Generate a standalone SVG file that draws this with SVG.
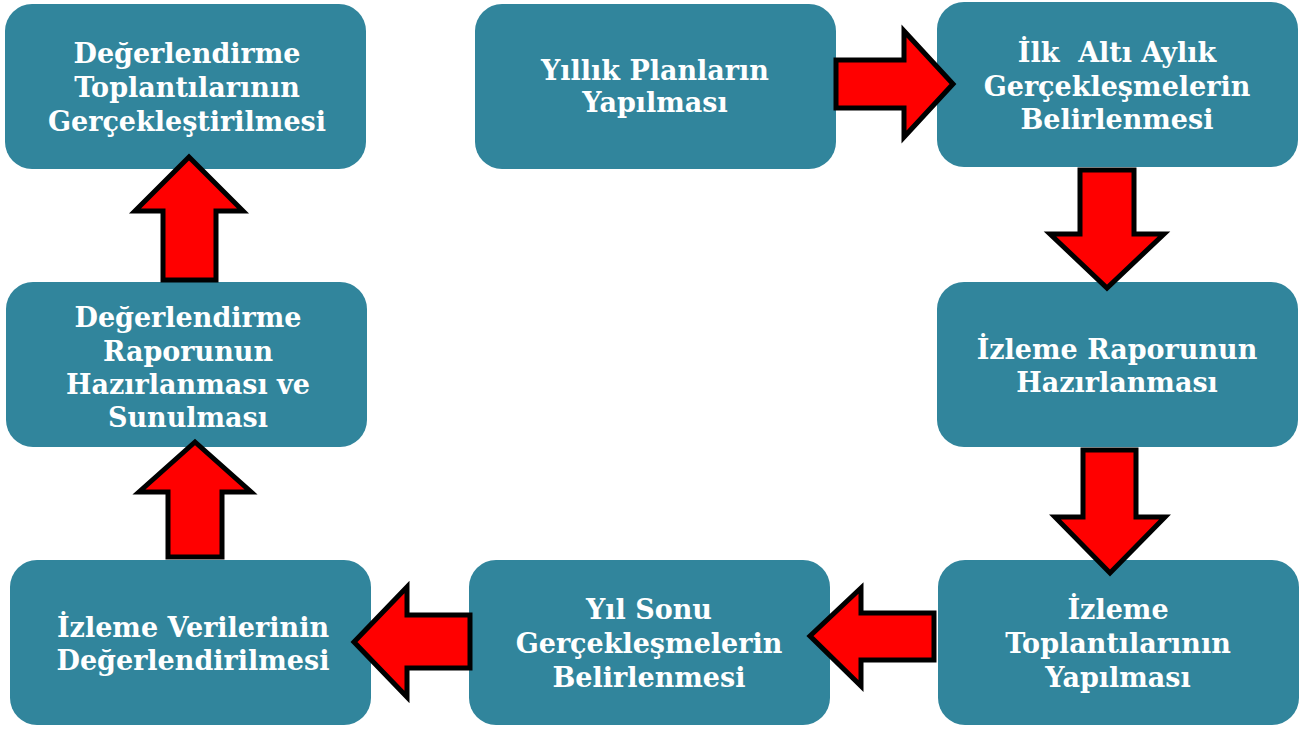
<svg xmlns="http://www.w3.org/2000/svg" width="1305" height="729" viewBox="0 0 1305 729">
<style>
.box{fill:#31859C}
.t{font-family:"DejaVu Serif","Liberation Serif",serif;font-weight:bold;font-size:27px;fill:#FFFFFF;text-anchor:middle}
.arr{fill:#FF0000;stroke:#000000;stroke-width:5;stroke-linejoin:miter}
</style>
<rect width="1305" height="729" fill="#FFFFFF"/>
<g id="n1"><rect class="box" x="5" y="4" width="361" height="165" rx="27"/>
<text class="t" x="187" y="63">Değerlendirme</text><text class="t" x="187" y="97">Toplantılarının</text><text class="t" x="187" y="131">Gerçekleştirilmesi</text></g>
<g id="n2"><rect class="box" x="475" y="4" width="361" height="165" rx="27"/>
<text class="t" x="655" y="80">Yıllık Planların</text><text class="t" x="655" y="112">Yapılması</text></g>
<g id="n3"><rect class="box" x="937" y="2" width="361" height="165" rx="27"/>
<text class="t" x="1117" y="62" xml:space="preserve">İlk  Altı Aylık</text><text class="t" x="1117" y="96">Gerçekleşmelerin</text><text class="t" x="1117" y="129">Belirlenmesi</text></g>
<g id="n4"><rect class="box" x="937" y="282" width="361" height="165" rx="27"/>
<text class="t" x="1117" y="359">İzleme Raporunun</text><text class="t" x="1117" y="392">Hazırlanması</text></g>
<g id="n5"><rect class="box" x="938" y="560" width="361" height="165" rx="27"/>
<text class="t" x="1118" y="619">İzleme</text><text class="t" x="1118" y="653">Toplantılarının</text><text class="t" x="1118" y="687">Yapılması</text></g>
<g id="n6"><rect class="box" x="469" y="560" width="361" height="165" rx="27"/>
<text class="t" x="649" y="619">Yıl Sonu</text><text class="t" x="649" y="653">Gerçekleşmelerin</text><text class="t" x="649" y="687">Belirlenmesi</text></g>
<g id="n7"><rect class="box" x="10" y="560" width="361" height="165" rx="27"/>
<text class="t" x="193" y="637">İzleme Verilerinin</text><text class="t" x="193" y="670">Değerlendirilmesi</text></g>
<g id="n8"><rect class="box" x="6" y="282" width="361" height="165" rx="27"/>
<text class="t" x="188" y="327">Değerlendirme</text><text class="t" x="188" y="361">Raporunun</text><text class="t" x="188" y="394">Hazırlanması ve</text><text class="t" x="188" y="427">Sunulması</text></g>
<g id="connectors">
<path class="arr" d="M836,60 L904,60 L904,31 L953,84 L904,137 L904,108 L836,108 Z"/>
<path class="arr" d="M1080,170 L1134,170 L1134,234 L1164,234 L1107,288 L1050,234 L1080,234 Z"/>
<path class="arr" d="M1083,450 L1136,450 L1136,517 L1165,517 L1110,573 L1055,517 L1083,517 Z"/>
<path class="arr" d="M934,613 L934,660 L861,660 L861,686 L810,636 L861,588 L861,613 Z"/>
<path class="arr" d="M470,615 L470,668 L407,668 L407,697 L354,642 L407,587 L407,615 Z"/>
<path class="arr" d="M168,557 L222,557 L222,492 L251,492 L195,442 L139,492 L168,492 Z"/>
<path class="arr" d="M163,280 L216,280 L216,211 L243,211 L189,157 L135,211 L163,211 Z"/>
</g>
</svg>
